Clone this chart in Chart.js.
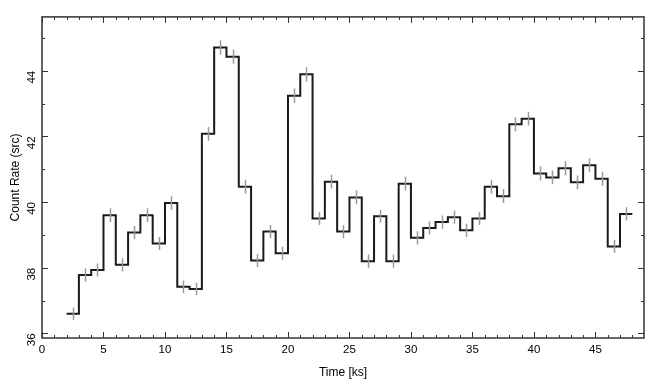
<!DOCTYPE html>
<html>
<head>
<meta charset="utf-8">
<script src="https://cdn.jsdelivr.net/npm/chart.js@4.4.1/dist/chart.umd.min.js"></script>
<style>
  html, body { margin: 0; padding: 0; background: #fff; }
  canvas { display: block; }
</style>
</head>
<body>
<canvas id="lc" width="655" height="385"></canvas>
<script>
// Light curve, 1 ks bins
const binCenters = [
  2.5, 3.5, 4.5, 5.5, 6.5, 7.5, 8.5, 9.5, 10.5, 11.5, 12.5, 13.5, 14.5, 15.5, 16.5, 17.5,
  18.5, 19.5, 20.5, 21.5, 22.5, 23.5, 24.5, 25.5, 26.5, 27.5, 28.5, 29.5, 30.5, 31.5, 32.5,
  33.5, 34.5, 35.5, 36.5, 37.5, 38.5, 39.5, 40.5, 41.5, 42.5, 43.5, 44.5, 45.5, 46.5, 47.5
];
const rates = [
  36.60, 37.78, 37.93, 39.60, 38.09, 39.07, 39.60, 38.74, 39.97, 37.42, 37.35, 42.08, 44.71, 44.43, 40.47, 38.22,
  39.10, 38.44, 43.24, 43.89, 39.50, 40.62, 39.10, 40.14, 38.20, 39.57, 38.20, 40.56, 38.91, 39.21, 39.39,
  39.54, 39.14, 39.50, 40.47, 40.18, 42.37, 42.54, 40.87, 40.75, 41.03, 40.60, 41.12, 40.71, 38.65, 39.64
];
const rateErrors = [
  0.19, 0.20, 0.20, 0.21, 0.20, 0.20, 0.21, 0.20, 0.21, 0.19, 0.19, 0.21, 0.22, 0.22, 0.21, 0.20,
  0.20, 0.20, 0.22, 0.22, 0.20, 0.21, 0.20, 0.21, 0.20, 0.20, 0.20, 0.21, 0.20, 0.20, 0.20,
  0.20, 0.20, 0.20, 0.21, 0.21, 0.21, 0.21, 0.21, 0.21, 0.21, 0.21, 0.21, 0.21, 0.20, 0.20
];
const binHalf = 0.5;
const xRange = [0, 48.95];
const yRange = [35.86, 45.64];

// step outline: one point per bin start, plus the end of the last bin
const stepPts = rates.map((r, i) => ({ x: binCenters[i] - binHalf, y: r }));
stepPts.push({ x: binCenters[binCenters.length - 1] + binHalf, y: rates[rates.length - 1] });

// gray vertical error bars
const errorBars = {
  id: 'errorBars',
  afterDatasetsDraw(chart) {
    const { ctx, scales: { x, y } } = chart;
    ctx.save();
    ctx.strokeStyle = '#9a9a9a';
    ctx.lineWidth = 1.5;
    ctx.beginPath();
    binCenters.forEach((t, i) => {
      const px = Math.round(x.getPixelForValue(t)) + 0.5;
      ctx.moveTo(px, y.getPixelForValue(rates[i] - rateErrors[i]));
      ctx.lineTo(px, y.getPixelForValue(rates[i] + rateErrors[i]));
    });
    ctx.stroke();
    ctx.restore();
  }
};

// box frame with inward ticks on all four sides
const frameTicks = {
  id: 'frameTicks',
  afterDraw(chart) {
    const { ctx, chartArea: a, scales: { x, y } } = chart;
    ctx.save();
    ctx.strokeStyle = '#333';
    ctx.lineWidth = 1.5;
    ctx.strokeRect(a.left, a.top, a.right - a.left, a.bottom - a.top);
    ctx.lineWidth = 1;
    ctx.beginPath();
    for (let t = 0; t <= 48; t++) {
      const px = Math.round(x.getPixelForValue(t)) + 0.5;
      const len = t % 5 === 0 ? 6 : 3;
      ctx.moveTo(px, a.bottom); ctx.lineTo(px, a.bottom - len);
      ctx.moveTo(px, a.top); ctx.lineTo(px, a.top + len);
    }
    for (let v = 36; v <= 45; v++) {
      const py = Math.round(y.getPixelForValue(v)) + 0.5;
      const len = v % 2 === 0 ? 6 : 3;
      ctx.moveTo(a.left, py); ctx.lineTo(a.left + len, py);
      ctx.moveTo(a.right, py); ctx.lineTo(a.right - len, py);
    }
    ctx.stroke();
    ctx.restore();
  }
};

Chart.defaults.font.family = '"Liberation Sans", Arial, Helvetica, sans-serif';
Chart.defaults.font.size = 11.5;
Chart.defaults.color = '#000';

new Chart(document.getElementById('lc'), {
  type: 'line',
  data: {
    datasets: [{
      data: stepPts,
      stepped: 'before',
      borderColor: '#1a1a1a',
      borderWidth: 2,
      pointRadius: 0,
      fill: false
    }]
  },
  options: {
    responsive: false,
    animation: false,
    maintainAspectRatio: false,
    layout: { padding: { top: 10, right: 11, left: 0, bottom: 0 } },
    plugins: { legend: { display: false }, tooltip: { enabled: false } },
    scales: {
      x: {
        type: 'linear',
        min: xRange[0], max: xRange[1],
        grid: { display: false, drawTicks: false },
        border: { display: false },
        ticks: { stepSize: 5, includeBounds: false, padding: 5, maxRotation: 0, color: '#000' },
        title: { display: true, text: 'Time [ks]', font: { size: 12 }, padding: { top: 6, bottom: 5 }, color: '#000' },
        afterFit(s) { s.height = 47; }
      },
      y: {
        min: yRange[0], max: yRange[1],
        grid: { display: false, drawTicks: false },
        border: { display: false },
        ticks: { stepSize: 2, includeBounds: false, padding: 10, minRotation: 90, maxRotation: 90, color: '#000' },
        title: { display: true, text: 'Count Rate (src)', font: { size: 12 }, padding: { top: 8, bottom: 4 }, color: '#000' },
        afterFit(s) { s.width = 42; }
      }
    }
  },
  plugins: [errorBars, frameTicks]
});
</script>
</body>
</html>
